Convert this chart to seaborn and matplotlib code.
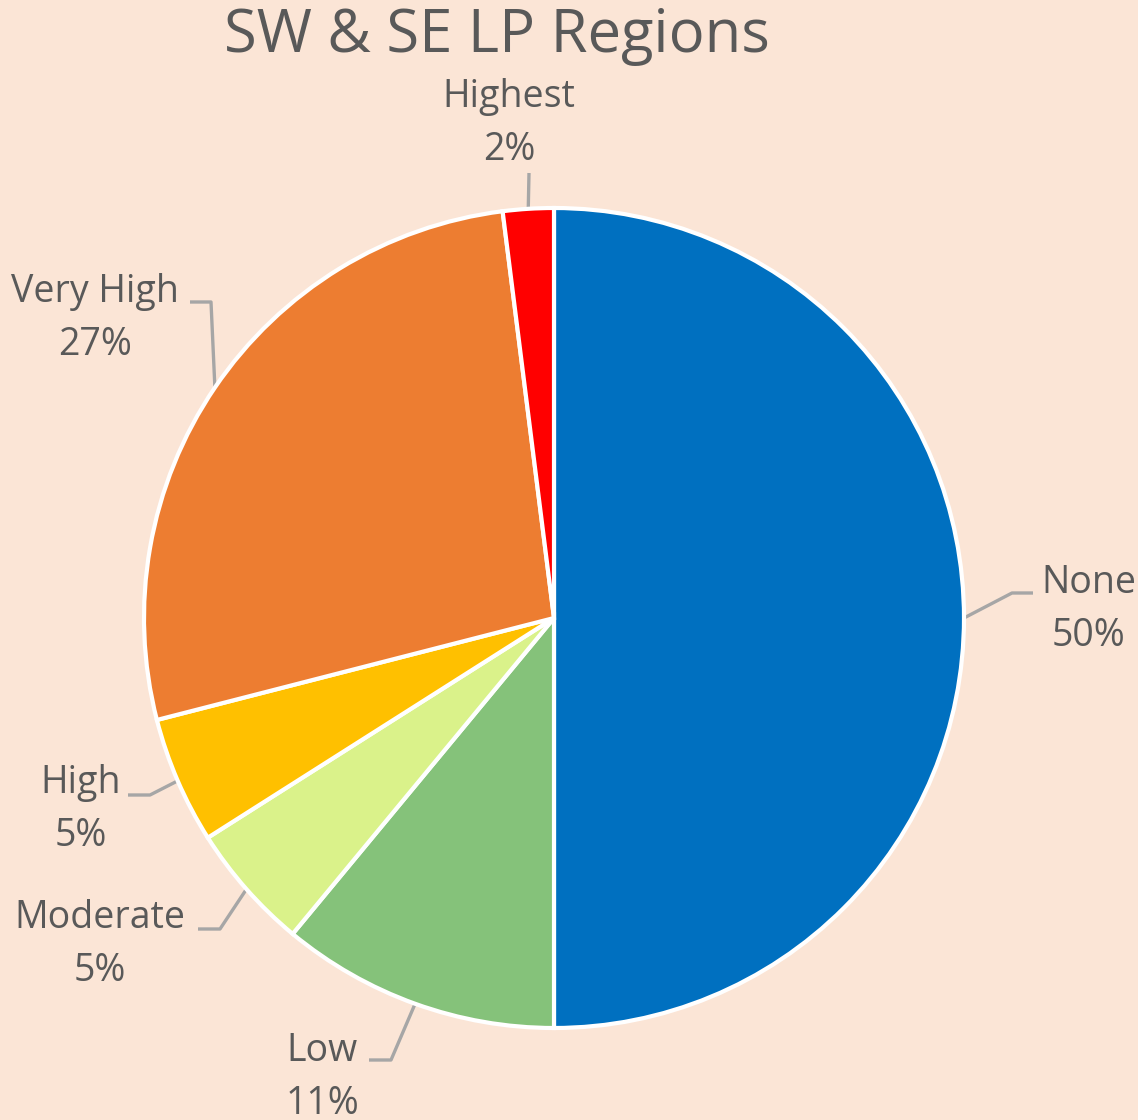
import numpy as np
import matplotlib
matplotlib.use("Agg")
import matplotlib.pyplot as plt
import seaborn as sns

# Share of area by level (percent), clockwise from 12 o'clock
categories = ["None", "Low", "Moderate", "High", "Very High", "Highest"]
shares = [50, 11, 5, 5, 27, 2]
slice_colors = ["#0070C0", "#85C27A", "#DAF28A", "#FFC000", "#ED7D31", "#FF0000"]
title_text = "SW & SE LP Regions"

BG = "#FBE5D6"
TEXT = "#595959"
LEADER = "#A6A6A6"

sns.set_theme(style="white", rc={"figure.facecolor": BG, "axes.facecolor": BG})
plt.rcParams["font.family"] = ["Open Sans", "DejaVu Sans"]

W, H = 1138, 1120
fig = plt.figure(figsize=(W / 100, H / 100), dpi=100)
ax = fig.add_axes([0, 0, 1, 1])
ax.set_facecolor(BG)

cx, cy, R = 554, H - 618, 410
wedges, _ = ax.pie(
    shares, colors=slice_colors, startangle=90, counterclock=False,
    center=(cx, cy), radius=R,
    wedgeprops=dict(edgecolor="white", linewidth=3.0, joinstyle="miter"),
)
ax.set_xlim(0, W)
ax.set_ylim(0, H)
ax.set_aspect("equal")
ax.axis("off")

# Label placement in pixel space (y measured from the top):
# text centre x, first-line baseline y, leader points from the text side to the elbow
label_layout = {
    "None":      (1089, 593,  [(1033, 593), (1012, 593)]),
    "Low":       (322,  1061, [(369, 1060), (391, 1060)]),
    "Moderate":  (100,  928,  [(198, 929), (220, 929)]),
    "High":      (81,   793,  [(128, 795), (150, 795)]),
    "Very High": (95,   302,  [(190, 302), (211, 302)]),
    "Highest":   (509,  107,  [(529, 173)]),
}
line_gap = 53
fs_label = 27

for wedge, cat, val in zip(wedges, categories, shares):
    tx, ty, pts = label_layout[cat]
    ax.text(tx, H - ty, cat, ha="center", va="baseline", fontsize=fs_label, color=TEXT)
    ax.text(tx, H - ty - line_gap, f"{val}%", ha="center", va="baseline",
            fontsize=fs_label, color=TEXT)
    mid = np.deg2rad((wedge.theta1 + wedge.theta2) / 2)
    ex, ey = cx + R * np.cos(mid), cy + R * np.sin(mid)
    xs = [p[0] for p in pts] + [ex]
    ys = [H - p[1] for p in pts] + [ey]
    ax.plot(xs, ys, color=LEADER, lw=2.4, solid_capstyle="butt", zorder=0.5)

ax.text(497, H - 52, title_text, ha="center", va="baseline", fontsize=43, color=TEXT)

fig.savefig("out.png", dpi=100, facecolor=BG)
